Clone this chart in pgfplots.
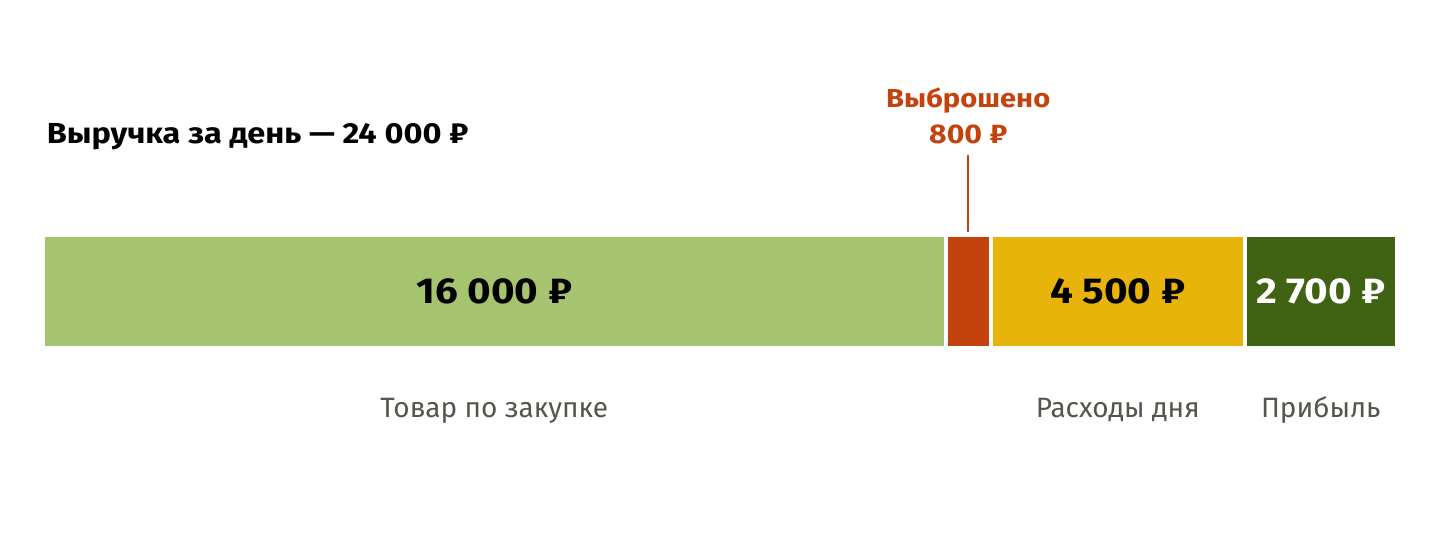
\documentclass[border=0pt]{standalone}
\usepackage{pgfplots}
\pgfplotsset{compat=1.18}
\usepackage{fontspec}
\setmainfont{Fira Sans}[BoldFeatures={FakeStretch=1.12}]

\definecolor{goods}{HTML}{A6C36F}
\definecolor{waste}{HTML}{C3420D}
\definecolor{costs}{HTML}{E8B30A}
\definecolor{profit}{HTML}{406313}
\definecolor{caption}{HTML}{55554D}

\tikzset{lbl/.style={inner sep=0pt}}

\begin{document}
\begin{tikzpicture}
  \useasboundingbox (0,0) rectangle (720bp,280bp);
  \begin{axis}[
      at={(21.5bp,0bp)}, anchor=south west,
      scale only axis, width=677bp, height=280bp,
      xmin=0, xmax=24000, ymin=0, ymax=560, y dir=reverse,
      hide axis, clip=false,
      xbar stacked, bar width=113,
      every axis plot/.append style={draw=white, line width=2bp},
    ]
    \addplot[fill=goods]  coordinates {(16000,291.5)};
    \addplot[fill=waste]  coordinates {(800,291.5)};
    \addplot[fill=costs]  coordinates {(4500,291.5)};
    \addplot[fill=profit] coordinates {(2700,291.5)};

    \coordinate (title) at (axis cs:60,143);
    \coordinate (v1) at (axis cs:8000,303);
    \coordinate (v3) at (axis cs:19050,303);
    \coordinate (v4) at (axis cs:22650,303);
    \coordinate (w1) at (axis cs:16400,107);
    \coordinate (w2) at (axis cs:16400,143);
    \coordinate (c1) at (axis cs:8000,417);
    \coordinate (c3) at (axis cs:19050,417);
    \coordinate (c4) at (axis cs:22650,417);
    \draw[waste, line width=1bp] (axis cs:16400,155) -- (axis cs:16400,232);
  \end{axis}

  % title
  \node[lbl, anchor=base west, font=\fontsize{14.5bp}{17bp}\selectfont\bfseries]
    at (title) {Выручка за день — 24 000 ₽};

  % amounts on the bar
  \node[lbl, anchor=base, font=\fontsize{18bp}{20bp}\selectfont\bfseries] at (v1) {16 000 ₽};
  \node[lbl, anchor=base, font=\fontsize{18bp}{20bp}\selectfont\bfseries] at (v3) {4 500 ₽};
  \node[lbl, anchor=base, font=\fontsize{18bp}{20bp}\selectfont\bfseries, text=white] at (v4) {2 700 ₽};

  % wasted callout
  \node[lbl, anchor=base, font=\fontsize{13bp}{16bp}\selectfont\bfseries, text=waste] at (w1) {Выброшено};
  \node[lbl, anchor=base, font=\fontsize{13.5bp}{16bp}\selectfont\bfseries, text=waste] at (w2) {800 ₽};

  % captions under the bar
  \node[lbl, anchor=base, font=\fontsize{14bp}{17bp}\selectfont, text=caption] at (c1) {Товар по закупке};
  \node[lbl, anchor=base, font=\fontsize{14bp}{17bp}\selectfont, text=caption] at (c3) {Расходы дня};
  \node[lbl, anchor=base, font=\fontsize{14bp}{17bp}\selectfont, text=caption] at (c4) {Прибыль};
\end{tikzpicture}
\end{document}
